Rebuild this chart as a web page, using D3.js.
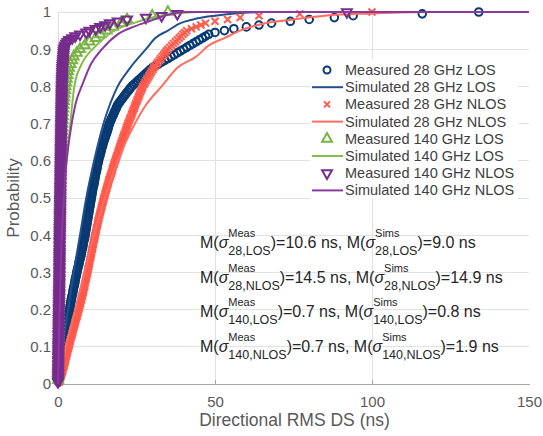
<!DOCTYPE html>
<html><head><meta charset="utf-8">
<script src="https://cdn.jsdelivr.net/npm/d3@7"></script>
<style>body{margin:0;background:#fff}</style>
</head><body><svg id="c" width="543" height="436"></svg>
<script>
// ---------- data ----------
const xTicks = [0, 50, 100, 150];
const yTicks = [0, 0.1, 0.2, 0.3, 0.4, 0.5, 0.6, 0.7, 0.8, 0.9, 1];
const yTickLabels = ["0", "0.1", "0.2", "0.3", "0.4", "0.5", "0.6", "0.7", "0.8", "0.9", "1"];
const legendLabels = ["Measured 28 GHz LOS", "Simulated 28 GHz LOS", "Measured 28 GHz NLOS", "Simulated 28 GHz NLOS",
  "Measured 140 GHz LOS", "Simulated 140 GHz LOS", "Measured 140 GHz NLOS", "Simulated 140 GHz NLOS"];

// measured directional RMS DS samples (ns), sorted; empirical CDF
const meas28LOS = [0.2,0.3,0.4,0.5,0.6,0.7,0.8,1.0,1.1,1.3,
1.4,1.5,1.6,1.7,1.8,1.9,2.0,2.1,2.2,2.3,
2.4,2.4,2.5,2.6,2.7,2.7,2.8,2.9,2.9,3.0,
3.1,3.1,3.2,3.3,3.3,3.4,3.5,3.5,3.6,3.7,
3.8,3.9,4.0,4.1,4.2,4.3,4.4,4.6,4.7,4.8,
4.9,5.0,5.2,5.3,5.4,5.5,5.6,5.8,5.9,6.0,
6.1,6.3,6.4,6.6,6.7,6.8,7.0,7.1,7.3,7.4,
7.5,7.6,7.8,7.9,8.0,8.1,8.2,8.4,8.5,8.6,
8.7,8.8,8.9,9.0,9.1,9.2,9.3,9.4,9.5,9.6,
9.7,9.8,9.9,10.0,10.1,10.2,10.3,10.4,10.5,10.6,
10.7,10.8,10.9,11.0,11.1,11.2,11.4,11.5,11.6,11.7,
11.8,11.9,12.0,12.2,12.3,12.4,12.5,12.6,12.8,12.9,
13.0,13.2,13.4,13.5,13.7,13.8,14.0,14.2,14.3,14.5,
14.7,14.9,15.1,15.3,15.5,15.7,15.9,16.0,16.2,16.4,
16.6,16.9,17.1,17.4,17.7,17.9,18.2,18.5,18.7,19.0,
19.4,19.8,20.3,20.7,21.2,21.6,22.1,22.6,23.0,23.5,
24.1,24.8,25.4,26.1,26.7,27.4,28.0,28.7,29.3,30.0,
31,32,33,34,35,36,37,38,39,40,
41,42,43,44,45,46,47,48,50,53,
56,60,64,68,74,80,88,94,116,134];

const meas28NLOS = [0.3,0.5,0.7,0.9,1.1,1.3,1.5,1.6,1.8,2.0,
2.1,2.3,2.4,2.5,2.7,2.8,3.0,3.1,3.3,3.4,
3.6,3.7,3.9,4.0,4.2,4.4,4.5,4.7,4.8,5.0,
5.2,5.3,5.5,5.6,5.8,6.0,6.1,6.3,6.4,6.6,
6.8,6.9,7.1,7.2,7.4,7.5,7.7,7.8,8.0,8.1,
8.2,8.4,8.5,8.6,8.7,8.9,9.0,9.1,9.3,9.4,
9.5,9.6,9.8,9.9,10.0,10.1,10.2,10.4,10.5,10.6,
10.7,10.8,11.0,11.1,11.2,11.3,11.4,11.6,11.7,11.8,
11.9,12.1,12.2,12.3,12.5,12.6,12.7,12.8,13.0,13.1,
13.3,13.4,13.6,13.7,13.9,14.0,14.2,14.3,14.5,14.6,
14.8,15.0,15.1,15.3,15.5,15.6,15.8,16.0,16.1,16.3,
16.5,16.7,16.9,17.1,17.3,17.4,17.6,17.8,18.0,18.2,
18.4,18.6,18.8,19.0,19.2,19.4,19.6,19.8,20.0,20.2,
20.4,20.6,20.8,21.0,21.3,21.5,21.7,21.9,22.1,22.3,
22.5,22.8,23.0,23.3,23.5,23.7,23.9,24.2,24.4,24.6,
24.8,25.1,25.3,25.6,25.8,26.0,26.3,26.5,26.8,27.0,
27.4,27.7,28.1,28.4,28.8,29.1,29.5,29.8,30.2,30.5,
30.9,31.4,31.8,32.3,32.7,33.2,33.6,34.1,34.5,35.0,
35.6,36.2,36.8,37.4,38.0,38.6,39.2,39.8,40.4,41.0,
42.5,44,45.5,47,50,54,58,64,77,100];

const meas140LOS = [0.02,0.03,0.05,0.06,0.08,0.09,0.1,0.12,0.13,0.15,
0.16,0.18,0.19,0.21,0.22,0.24,0.25,0.27,0.28,0.3,
0.31,0.33,0.34,0.36,0.37,0.39,0.4,0.42,0.43,0.45,
0.46,0.47,0.48,0.49,0.5,0.51,0.52,0.53,0.54,0.55,
0.57,0.58,0.6,0.61,0.63,0.64,0.66,0.67,0.69,0.7,
0.73,0.76,0.79,0.82,0.85,0.88,0.91,0.94,0.97,1.0,
1.04,1.08,1.12,1.16,1.2,1.24,1.28,1.32,1.36,1.4,
1.5,1.55,1.6,1.7,1.8,1.9,2.0,2.1,2.25,2.4,
2.6,2.8,3.0,3.2,3.5,4.0,4.5,5.0,6,7,
8.5,10,12,13.5,15.5,17.5,20,22,30,35];

const meas140NLOS = [0.01,0.02,0.03,0.04,0.05,0.05,0.06,0.07,0.08,0.08,0.09,0.1,0.1,0.11,0.12,0.12,0.13,0.14,0.14,0.15,
0.16,0.16,0.17,0.18,0.19,0.19,0.2,0.21,0.22,0.22,0.23,0.24,0.25,0.25,0.26,0.27,0.28,0.28,0.29,0.3,
0.31,0.31,0.32,0.33,0.34,0.34,0.35,0.36,0.37,0.37,0.38,0.39,0.4,0.4,0.41,0.42,0.43,0.43,0.44,0.45,
0.45,0.46,0.46,0.47,0.47,0.48,0.48,0.49,0.49,0.5,0.5,0.51,0.51,0.52,0.52,0.53,0.53,0.54,0.54,0.55,
0.56,0.56,0.57,0.58,0.59,0.59,0.6,0.61,0.62,0.62,0.63,0.64,0.65,0.65,0.66,0.67,0.68,0.68,0.69,0.7,
0.71,0.71,0.72,0.73,0.74,0.74,0.75,0.76,0.77,0.77,0.78,0.79,0.8,0.8,0.81,0.82,0.83,0.83,0.84,0.85,
0.86,0.86,0.87,0.88,0.89,0.89,0.9,0.91,0.92,0.92,0.93,0.94,0.95,0.95,0.96,0.97,0.98,0.98,0.99,1.0,
1.01,1.02,1.03,1.04,1.05,1.06,1.07,1.08,1.09,1.1,1.11,1.12,1.13,1.14,1.15,1.16,1.17,1.18,1.19,1.2,
1.22,1.24,1.26,1.28,1.3,1.32,1.34,1.36,1.38,1.4,1.45,1.5,1.55,1.6,1.65,1.7,1.75,1.8,1.85,1.9,
2.1,2.3,2.6,3.0,3.5,4.5,5.5,7,9,10,12,13.4,15,16.5,19,22,28,33,38,92];

// simulated CDF curves: delay (ns) and probability
const sim28LOS_ns = [0, 1.5, 3.2, 5, 7, 9, 11.5, 14.5, 19, 23, 28, 31, 35, 39, 43, 50, 58, 65, 150];
const sim28LOS_p  = [0, 0.1, 0.2, 0.3, 0.4, 0.5, 0.6, 0.7, 0.8, 0.85, 0.9, 0.93, 0.95, 0.97, 0.98, 0.99, 0.997, 1, 1];
const sim28NLOS_ns = [0, 2.5, 5.5, 8.5, 11.5, 14.9, 19, 24.5, 28, 33, 38, 44, 48, 53, 58, 66, 75, 85, 100, 118, 150];
const sim28NLOS_p  = [0, 0.1, 0.2, 0.3, 0.4, 0.5, 0.6, 0.7, 0.75, 0.8, 0.85, 0.88, 0.91, 0.93, 0.95, 0.97, 0.98, 0.99, 0.996, 1, 1];
const sim140LOS_ns = [0, 0.2, 0.8, 1.8, 2.8, 3.6, 5.2, 7.5, 11, 14, 17, 20.5, 24, 30, 37, 45, 150];
const sim140LOS_p  = [0, 0.3, 0.5, 0.56, 0.6, 0.67, 0.8, 0.86, 0.9, 0.925, 0.945, 0.96, 0.97, 0.985, 0.995, 1, 1];
const sim140NLOS_ns = [0, 0.5, 1.2, 1.9, 2.5, 3.8, 5.5, 8, 10.5, 14, 19, 24, 29, 34, 40, 150];
const sim140NLOS_p  = [0, 0.2, 0.4, 0.5, 0.58, 0.67, 0.75, 0.81, 0.86, 0.9, 0.94, 0.96, 0.975, 0.99, 1, 1];

// annotation values (median RMS DS)
const annoSub = ["28,LOS", "28,NLOS", "140,LOS", "140,NLOS"];
const annoMeas = ["10.6", "14.5", "0.7", "0.7"];
const annoSims = ["9.0", "14.9", "0.8", "1.9"];

// ---------- drawing ----------
const FF = "'Liberation Sans', Arial, sans-serif";
const C = {
  navy: "#083a72", navyLine: "#22508f",
  red: "#ff5a4c", redLine: "#ff6d60",
  green: "#79b443", greenLine: "#82bd4c",
  purple: "#762c8c", purpleLine: "#8a3a9e"
};
const svg = d3.select("#c");
const x = d3.scaleLinear().domain([0, 150]).range([58, 529]);
const y = d3.scaleLinear().domain([0, 1]).range([384, 12]);

// grid
svg.append("g").selectAll("line").data(yTicks.slice(1)).join("line")
  .attr("x1", x(0)).attr("x2", x(150)).attr("y1", d => y(d)).attr("y2", d => y(d))
  .attr("stroke", "#e2e2e2").attr("stroke-width", 1).attr("shape-rendering", "crispEdges");
svg.append("g").selectAll("line").data(xTicks.slice(1, 3)).join("line")
  .attr("x1", d => x(d)).attr("x2", d => x(d)).attr("y1", y(0)).attr("y2", y(1))
  .attr("stroke", "#e2e2e2").attr("stroke-width", 1).attr("shape-rendering", "crispEdges");
svg.append("line").attr("x1", x(0)).attr("x2", x(0)).attr("y1", y(0)).attr("y2", y(1))
  .attr("stroke", "#dcdcdc").attr("shape-rendering", "crispEdges");

// axes
const xAxis = svg.append("g").attr("transform", `translate(0,${y(0)})`)
  .call(d3.axisBottom(x).tickValues(xTicks).tickSize(0).tickPadding(12));
xAxis.select(".domain").attr("stroke", "#a6a6a6").attr("shape-rendering", "crispEdges");
xAxis.selectAll("text").attr("font-family", FF).attr("font-size", 15).attr("fill", "#595959");
svg.append("g").selectAll("line").data(xTicks.slice(1, 3)).join("line")
  .attr("x1", d => x(d)).attr("x2", d => x(d)).attr("y1", y(0)).attr("y2", y(0) - 4)
  .attr("stroke", "#a6a6a6").attr("shape-rendering", "crispEdges");

const yAxis = svg.append("g").attr("transform", `translate(${x(0)},0)`)
  .call(d3.axisLeft(y).tickValues(yTicks).tickFormat((d, i) => yTickLabels[i]).tickSize(0).tickPadding(7));
yAxis.select(".domain").remove();
yAxis.selectAll("text").attr("font-family", FF).attr("font-size", 15).attr("fill", "#595959");

svg.append("text").attr("transform", `translate(19,${(y(0) + y(1)) / 2}) rotate(-90)`)
  .attr("text-anchor", "middle").attr("font-family", FF).attr("font-size", 17).attr("fill", "#595959")
  .text("Probability");
svg.append("text").attr("x", (x(0) + x(150)) / 2 + 1).attr("y", 426)
  .attr("text-anchor", "middle").attr("font-family", FF).attr("font-size", 17.5).attr("fill", "#595959")
  .text("Directional RMS DS (ns)");

// marker shapes
const triUp = d3.symbol(d3.symbolTriangle, 42)();
const xPath = "M-3.5,-3.5L3.5,3.5M-3.5,3.5L3.5,-3.5";
function ecdf(arr) { return arr.map((v, i) => [v, (i + 1) / arr.length]); }
function zip(a, b) { return a.map((v, i) => [v, b[i]]); }
const line = d3.line().x(d => x(d[0])).y(d => y(d[1])).curve(d3.curveMonotoneX);

function drawCircles(data, color) {
  svg.append("g").selectAll("circle").data(ecdf(data)).join("circle")
    .attr("cx", d => x(d[0])).attr("cy", d => y(d[1])).attr("r", 3.8)
    .attr("fill", "none").attr("stroke", color).attr("stroke-width", 2);
}
function drawPaths(data, color, path, rot) {
  svg.append("g").selectAll("path").data(ecdf(data)).join("path")
    .attr("d", path).attr("transform", d => `translate(${x(d[0])},${y(d[1])})${rot ? " rotate(180)" : ""}`)
    .attr("fill", "none").attr("stroke", color).attr("stroke-width", 2);
}
function drawLine(ns, p, color) {
  svg.append("path").datum(zip(ns, p)).attr("d", line)
    .attr("fill", "none").attr("stroke", color).attr("stroke-width", 2);
}

drawCircles(meas28LOS, C.navy);
drawLine(sim28LOS_ns, sim28LOS_p, C.navyLine);
drawPaths(meas28NLOS, C.red, xPath, false);
drawLine(sim28NLOS_ns, sim28NLOS_p, C.redLine);
drawPaths(meas140LOS, C.green, triUp, false);
drawLine(sim140LOS_ns, sim140LOS_p, C.greenLine);
drawPaths(meas140NLOS, C.purple, triUp, true);
drawLine(sim140NLOS_ns, sim140NLOS_p, C.purpleLine);

// legend
const lg = svg.append("g");
lg.append("rect").attr("x", 310).attr("y", 59).attr("width", 208).attr("height", 140).attr("fill", "#fff");
const rowY = i => 70 + i * 17.2;
const legendKinds = [
  {t: "c", c: C.navy}, {t: "l", c: C.navyLine}, {t: "x", c: C.red}, {t: "l", c: C.redLine},
  {t: "u", c: C.green}, {t: "l", c: C.greenLine}, {t: "d", c: C.purple}, {t: "l", c: C.purpleLine}
];
legendLabels.forEach((lab, i) => {
  const k = legendKinds[i], yy = rowY(i), mx = 327;
  if (k.t === "l") lg.append("line").attr("x1", 312).attr("x2", 343).attr("y1", yy).attr("y2", yy).attr("stroke", k.c).attr("stroke-width", 2);
  else if (k.t === "c") lg.append("circle").attr("cx", mx).attr("cy", yy).attr("r", 3.5).attr("fill", "none").attr("stroke", k.c).attr("stroke-width", 2);
  else lg.append("path").attr("d", k.t === "x" ? "M-3,-3L3,3M-3,3L3,-3" : triUp)
    .attr("transform", `translate(${mx},${yy})${k.t === "d" ? " rotate(180)" : ""}`)
    .attr("fill", "none").attr("stroke", k.c).attr("stroke-width", 2);
  lg.append("text").attr("x", 345).attr("y", yy + 5).attr("font-family", FF).attr("font-size", 14.5)
    .attr("fill", "#404040").text(lab);
});

// annotations
const annoBase = [248, 283, 317, 352];
annoSub.forEach((sub, i) => {
  const g = svg.append("g").attr("font-family", FF).attr("fill", "#262626");
  let cx = 200; const by = annoBase[i];
  const seg = (txt, size, dy, italic) => {
    const t = g.append("text").attr("x", cx).attr("y", by + dy).attr("font-size", size).text(txt);
    if (italic) t.attr("font-style", "italic");
    return t.node().getComputedTextLength();
  };
  const stack = (sup) => {
    const a = seg(sup, 11, -11), b = seg(sub, 12.5, 7);
    cx += Math.max(a, b);
  };
  cx += seg("M(", 16, 0);
  cx += seg("σ", 16, 0, true);
  stack("Meas");
  cx += seg(")=" + annoMeas[i] + " ns, M(", 16, 0);
  cx += seg("σ", 16, 0, true);
  stack("Sims");
  seg(")=" + annoSims[i] + " ns", 16, 0);
});
</script></body></html>
